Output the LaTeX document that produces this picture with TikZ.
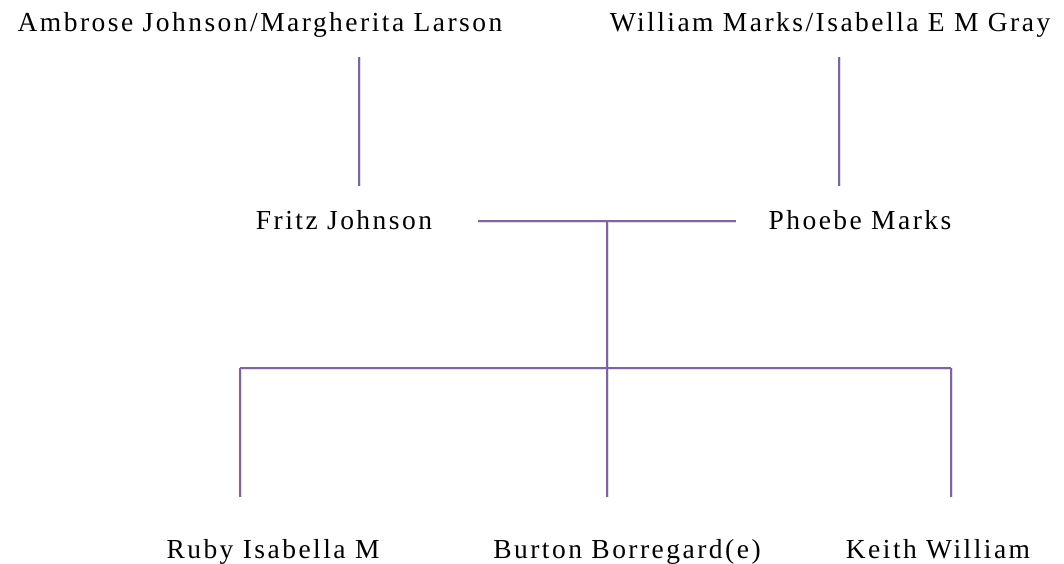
\documentclass[tikz,border=0pt]{standalone}
\usepackage{fontspec}
\setmainfont{Liberation Serif}[LetterSpace=9]
\definecolor{linepurple}{HTML}{8064A2}
\begin{document}
\begin{tikzpicture}[x=1pt,y=-1pt,
  person/.style={anchor=base,inner sep=0pt,font=\fontsize{27.5}{32}\selectfont},
  link/.style={draw=linepurple,line width=2.2pt},
  shade/.style={draw=black!12,line width=3pt}]
\useasboundingbox (0,0) rectangle (1064,564);
\node[person] (ambrose) at (260,31.5) {Ambrose Johnson/Margherita Larson};
\node[person] (william) at (830,31.5) {William Marks/Isabella E M Gray};
\node[person] (fritz) at (344,229.3) {Fritz Johnson};
\node[person] (phoebe) at (860,229.3) {Phoebe Marks};
\node[person] (ruby) at (273,558.3) {Ruby Isabella M};
\node[person] (burton) at (627,558.3) {Burton Borregard(e)};
\node[person] (keith) at (938,558.3) {Keith William};
\coordinate (a1) at (359,57);  \coordinate (a2) at (359,186);
\coordinate (w1) at (839,57);  \coordinate (w2) at (839,186);
\coordinate (mL) at (478,221); \coordinate (mR) at (736,221);
\coordinate (mC) at (607,221);
\coordinate (cC) at (607,368);
\coordinate (cL) at (240,368); \coordinate (cR) at (951,368);
\coordinate (bL) at (240,497); \coordinate (bC) at (607,497); \coordinate (bR) at (951,497);
\begin{scope}[shift={(1.5,3)}]
\foreach \p/\q in {a1/a2,w1/w2,mL/mR,mC/cC,cL/cR,cL/bL,cC/bC,cR/bR}
  \draw[shade] (\p) -- (\q);
\end{scope}
\foreach \p/\q in {a1/a2,w1/w2,mL/mR,mC/cC,cL/cR,cL/bL,cC/bC,cR/bR}
  \draw[link] (\p) -- (\q);
\end{tikzpicture}
\end{document}
